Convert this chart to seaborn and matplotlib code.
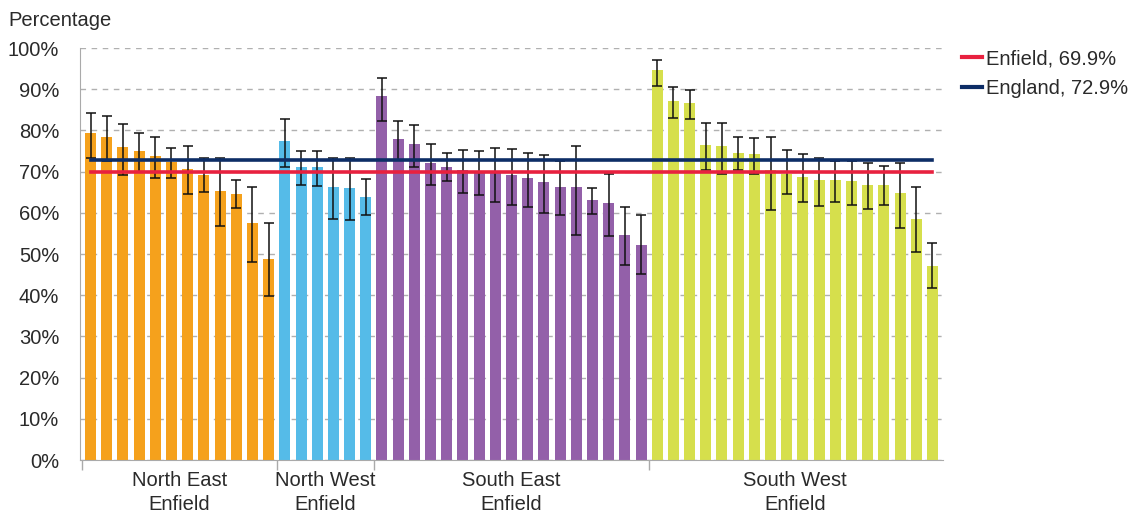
import numpy as np
import pandas as pd
import matplotlib
matplotlib.use("Agg")
import matplotlib.pyplot as plt
from matplotlib.lines import Line2D
import seaborn as sns

# regions and their bars (values in %)
regions = ["North East\nEnfield", "North West\nEnfield", "South East\nEnfield", "South West\nEnfield"]
region_colors = ["#f5a11c", "#55bbe8", "#9360a9", "#d6df4c"]

north_east = [79.4, 78.5, 76.0, 75.0, 73.8, 72.4, 70.7, 69.2, 65.3, 64.6, 57.5, 48.7]
north_east_lo = [73.3, 72.6, 69.1, 70.0, 68.5, 68.5, 64.6, 65.0, 56.7, 61.2, 48.0, 39.8]
north_east_hi = [84.2, 83.4, 81.5, 79.3, 78.5, 75.8, 76.2, 73.2, 73.2, 67.9, 66.3, 57.6]

north_west = [77.5, 71.1, 71.1, 66.3, 66.0, 63.8]
north_west_lo = [71.1, 66.8, 66.6, 58.4, 58.2, 59.4]
north_west_hi = [82.8, 75.1, 75.1, 73.4, 73.2, 68.1]

south_east = [88.4, 77.9, 76.7, 72.0, 71.1, 70.3, 69.9, 69.8, 69.1, 68.4, 67.4, 66.2, 66.2,
              63.0, 62.3, 54.5, 52.3]
south_east_lo = [82.2, 72.8, 71.2, 66.8, 67.6, 64.7, 64.2, 62.7, 61.9, 61.5, 59.9, 59.5, 54.6,
                 59.8, 54.3, 47.3, 45.2]
south_east_hi = [92.8, 82.4, 81.4, 76.6, 74.6, 75.3, 74.9, 75.8, 75.6, 74.4, 74.1, 72.6, 76.1,
                 66.1, 69.3, 61.5, 59.4]

south_west = [94.7, 87.2, 86.7, 76.4, 76.2, 74.5, 74.2, 70.3, 69.3, 68.6, 67.9, 67.9, 67.6,
              66.7, 66.7, 64.7, 58.4, 47.2]
south_west_lo = [90.7, 82.9, 82.8, 70.5, 69.5, 70.3, 69.5, 60.7, 64.5, 62.6, 61.7, 62.7, 62.0,
                 60.9, 61.8, 56.3, 50.4, 41.7]
south_west_hi = [97.0, 90.5, 89.8, 81.7, 81.9, 78.5, 78.2, 78.3, 75.2, 74.2, 73.3, 72.5, 72.5,
                 72.1, 71.4, 72.1, 66.2, 52.7]

enfield_value = 69.9
england_value = 72.9

groups = [(north_east, north_east_lo, north_east_hi),
          (north_west, north_west_lo, north_west_hi),
          (south_east, south_east_lo, south_east_hi),
          (south_west, south_west_lo, south_west_hi)]

rows = []
for reg, (vals, lo, hi) in zip(regions, groups):
    for v, l, h in zip(vals, lo, hi):
        rows.append({"region": reg, "value": v, "lo": l, "hi": h})
df = pd.DataFrame(rows)
df["pos"] = np.arange(len(df))

plt.rcParams["font.family"] = ["Liberation Sans", "DejaVu Sans"]
FS = 14.5
TXT = "#2a2a2a"
fig = plt.figure(figsize=(11.39, 5.16), dpi=100)
ax = fig.add_axes([80 / 1139, 1 - 460 / 516, (943 - 80) / 1139, (460 - 48) / 516])

sns.barplot(data=df, x="pos", y="value", hue="region", palette=region_colors,
            dodge=False, width=0.68, legend=False, ax=ax, saturation=1)

ax.errorbar(df["pos"], df["value"],
            yerr=[df["value"] - df["lo"], df["hi"] - df["value"]],
            fmt="none", ecolor="#111111", elinewidth=1.1, capsize=3.5, capthick=1.1, zorder=4)

n = len(df)
ax.plot([0, n - 1], [enfield_value, enfield_value], color="#e8213f", lw=2.6, zorder=5)
ax.plot([0, n - 1], [england_value, england_value], color="#0d2d66", lw=2.6, zorder=5)

ax.set_xlim(-0.5 - 0.15, n - 0.5 + 0.15)
ax.set_ylim(0, 100)
ax.set_yticks(np.arange(0, 101, 10))
ax.set_yticklabels([f"{t}%" for t in range(0, 101, 10)], fontsize=FS, color=TXT)
ax.yaxis.grid(True, linestyle=(0, (4, 4)), color="#b0b0b0", lw=1)
ax.set_axisbelow(True)
ax.tick_params(axis="y", length=0, pad=15)

# group separators on the x axis and centered group labels
counts = [len(g[0]) for g in groups]
edges = np.concatenate([[0], np.cumsum(counts)]) - 0.5
ax.set_xticks(edges[:-1])
ax.set_xticklabels([])
ax.tick_params(axis="x", length=7, color="#aaaaaa", width=1)
for i, reg in enumerate(regions):
    mid = (edges[i] + edges[i + 1]) / 2
    ax.text(mid, -2.6, reg, ha="center", va="top", fontsize=FS, color=TXT,
            linespacing=1.32, transform=ax.transData)

for s in ["top", "right"]:
    ax.spines[s].set_visible(False)
ax.spines["left"].set_color("#aaaaaa")
ax.spines["bottom"].set_color("#aaaaaa")
ax.set_xlabel("")
ax.set_ylabel("")

fig.text(8 / 1139, 1 - 20 / 516, "Percentage", fontsize=FS, va="center", ha="left", color=TXT)

handles = [Line2D([0], [0], color="#e8213f", lw=3), Line2D([0], [0], color="#0d2d66", lw=3)]
fig.legend(handles, [f"Enfield, {enfield_value}%", f"England, {england_value}%"],
           loc="upper left", bbox_to_anchor=(944 / 1139, 1 - 31 / 516), frameon=False,
           fontsize=FS, handlelength=1.0, handletextpad=0.2, labelspacing=0.55,
           labelcolor=TXT)

fig.savefig("out.png", dpi=100)
